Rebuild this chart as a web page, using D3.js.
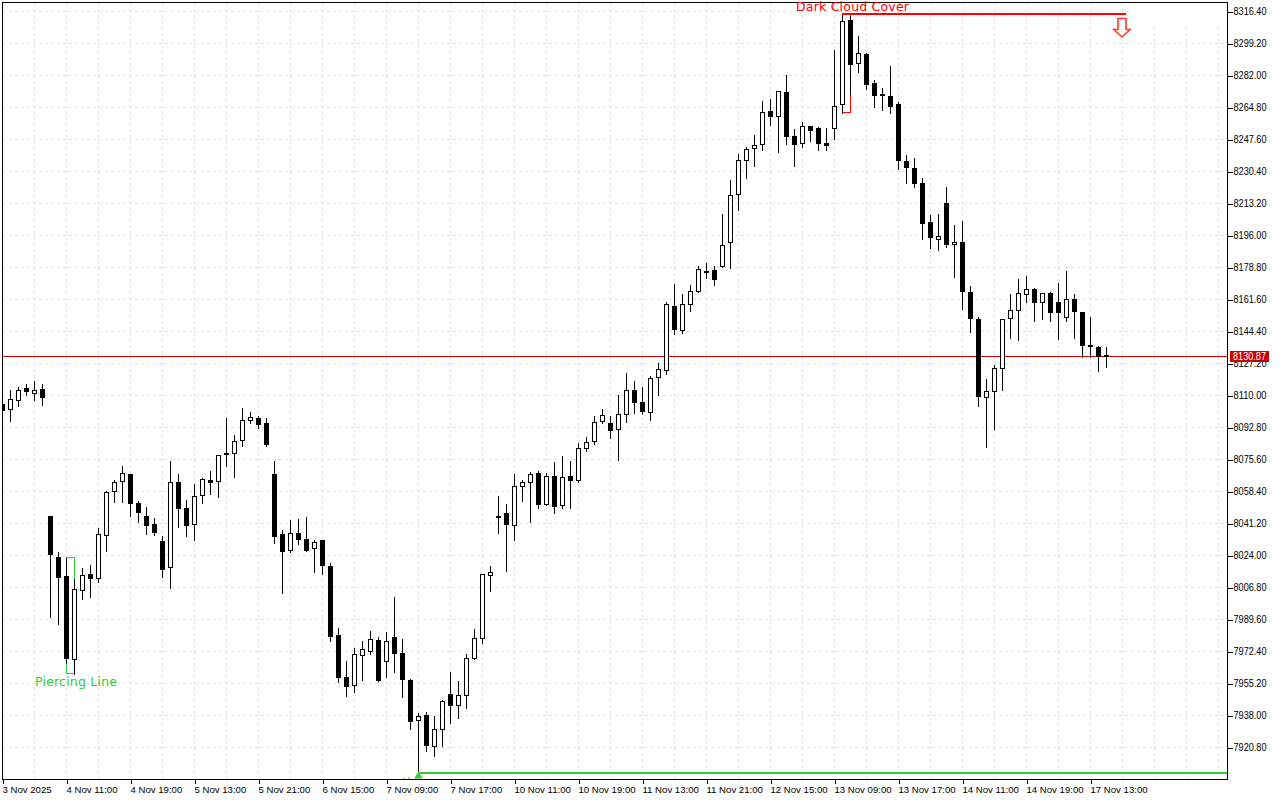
<!DOCTYPE html>
<html>
<head>
<meta charset="utf-8">
<script src="https://cdn.jsdelivr.net/npm/d3@7/dist/d3.min.js"></script>
<style>
html,body{margin:0;padding:0;background:#fff;overflow:hidden}
svg{display:block}
text{font-family:"Liberation Sans",Arial,sans-serif}
</style>
</head>
<body>
<div id="chart"></div>
<script>
const opens = [8105.4,8102.6,8107.4,8113.5,8111.2,8113.3,8044.7,8023,8012.8,7968.2,
8005.3,8014,8011.7,8034.8,8058.5,8063.9,8067.8,8052,8045,8040.7,
8031.6,8017.6,8063.3,8049.3,8040.7,8056.3,8064.4,8063.9,8078.9,8078.9,
8085.9,8096.6,8097.7,8095,8067.8,8035.3,8026.6,8035.9,8032.7,8027.8,
8031.8,8018.3,7981.1,7958.5,7954,7970.3,7972.3,7978.4,7966.9,7980,
7971.4,7956.9,7935.4,7938.1,7921.4,7930.5,7949.3,7943.3,7948.8,7968.7,
7979.3,8013.1,8045,8046.6,8040.2,8061.2,8063.3,8068.2,8051.5,8066.6,
8050.8,8066.6,8064.4,8081.6,8085.4,8096.1,8095.1,8091.8,8099.9,8112.8,
8106.3,8101,8119.8,8123.5,8157.9,8145,8159,8166,8176.8,8177.3,
8179.4,8192.3,8218.1,8236.4,8242.9,8245,8262.8,8260.1,8273,8249.3,
8245.6,8254.7,8253.6,8245.6,8253.6,8266.5,8311.7,8288.6,8293.4,8277.8,
8271.9,8270.8,8266.5,8235.9,8232.1,8224,8203,8193.9,8213.3,8191.2,
8192.3,8165.4,8150.9,8109,8112.2,8124.6,8151.4,8155.7,8164.3,8167,
8160,8164.9,8160,8152,8161.7,8154.7,8136.9,8135.9,8131.6];
const highs = [8105.6,8113.3,8115.1,8116.2,8118.3,8116.2,8044.7,8025.9,8023,8011.7,
8017.8,8018.9,8039.1,8058.7,8064.6,8072.6,8068.2,8053.6,8050.1,8044.5,
8034.8,8075.3,8068.2,8054.2,8062.8,8066,8069.9,8078.5,8098.4,8089.3,
8103.3,8101.5,8099.5,8098.4,8074.8,8038,8043.6,8044.1,8044.7,8032.7,
8032.3,8020.3,7985.4,7967.3,7974.6,7978.4,7983.7,7980.5,7983.2,8002.2,
7979.6,7957.9,7939.7,7940.2,7938.1,7946.7,7961.9,7957,7971.4,7984.8,
8014.2,8018.7,8056.5,8052.2,8068.1,8064.6,8069.4,8069.8,8068.4,8074.3,
8077.5,8075.3,8084.8,8088.2,8099,8102.8,8099,8110.3,8122.1,8118.3,
8115.1,8121,8128,8160.6,8170.3,8164.6,8169.9,8180.1,8181.6,8180,
8207.6,8226.2,8240.2,8244.1,8250.4,8268.8,8269.4,8273.5,8282.3,8253.6,
8257.4,8255.2,8254.7,8253.8,8296.1,8315.1,8314.4,8303.6,8294.5,8280,
8275.7,8287.5,8268.1,8239.6,8238,8227.4,8207.3,8207.9,8222.4,8202.1,
8203.8,8169.2,8152.5,8119.4,8126.4,8151.4,8164.9,8172.9,8174.6,8168.1,
8165.4,8166,8170.8,8177.2,8164.9,8154.7,8152.5,8136.9,8136.4];
const lows = [8101.4,8096.8,8104.5,8110.3,8107.6,8105.1,7991.1,7987.4,7966.4,7960.7,
8000.8,8002.2,8009.9,8026.9,8052.9,8052.9,8045.4,8042.2,8035.7,8035.2,
8012.6,8006.7,8039.5,8034.7,8032.5,8052.4,8057.2,8055.6,8072.3,8066.4,
8083,8095.4,8092.7,8083,8030.9,8004,8026,8030.3,8026.6,8015.3,
8014.2,7978.2,7956.2,7948.6,7950.8,7957.2,7971.2,7956.7,7958.8,7961.5,
7948.1,7930.9,7906.9,7919.1,7916.4,7922.1,7934.1,7936.8,7942.2,7968.7,
7977.1,8005.1,8036.2,8015.8,8032.5,8053.5,8042.2,8049.7,8051.5,8047,
8049.7,8049.7,8063.7,8080.4,8084.1,8095.4,8087.4,8075.5,8095.8,8100.8,
8100.3,8097,8110.8,8121.8,8143.3,8144,8155.6,8166,8173.5,8169.6,
8179.4,8178.7,8209.9,8227.1,8233.6,8242.2,8255.9,8241.1,8245.7,8233.6,
8243.8,8247,8242.2,8242.2,8248.1,8262.2,8272.4,8284.1,8274.9,8265.3,
8263.8,8262,8231.9,8224.4,8222.3,8194.3,8189.4,8188.4,8190,8173.8,
8156.6,8144.3,8104.5,8082.5,8092.1,8113.1,8141.1,8140,8160.4,8150.2,
8151.3,8150.2,8140.5,8150.2,8141.1,8131.2,8130.8,8123.3,8125.5];
const closes = [8101.8,8107.9,8112.8,8112.1,8112.8,8108.8,8024.4,8012.3,7968.5,8005.8,
8013.3,8011.5,8035.4,8057.9,8063.3,8068.2,8051.9,8047,8040,8036.3,
8016.4,8063.3,8049.2,8040,8055.8,8064.9,8063.1,8077.8,8078.2,8085.4,
8096.6,8098.3,8094.3,8083.6,8034.1,8026,8035.9,8032.7,8026.9,8031,
8018.5,7980.3,7958.3,7953.5,7970.8,7973.5,7978.9,7957,7977.8,7971.2,
7957.2,7934.7,7937.5,7921.8,7930.5,7945.6,7943.3,7948.6,7968.7,7979.4,
8013.8,8014.7,8044.3,8040.5,8061.1,8063.3,8067.6,8051.5,8066.6,8050.3,
8066,8064.4,8081.6,8084.8,8095.6,8099.4,8091.1,8099.9,8112.8,8106.2,
8101.3,8119.2,8124.1,8159,8145.4,8159,8166,8177.5,8176.4,8172.3,
8190.7,8217.6,8236.4,8242.3,8244.5,8262.2,8259.9,8273.5,8249.3,8245,
8254.7,8252.5,8245.4,8244.3,8265.4,8311.1,8288,8293.9,8277.1,8271.2,
8271.2,8265.3,8236.2,8232.5,8223.9,8202.3,8194.8,8195.5,8191,8192.3,
8165.8,8151.3,8109.3,8112,8124.6,8150.9,8155.7,8164.9,8167,8159.9,
8164.9,8154.5,8154.5,8161.7,8155,8136.8,8136.2,8131.2,8130.9];

const priceTicks = [8316.4,8299.2,8282,8264.8,8247.6,8230.4,8213.2,8196,8178.8,8161.6,8144.4,8127.2,
8110,8092.8,8075.6,8058.4,8041.2,8024,8006.8,7989.6,7972.4,7955.2,7938,7920.8];
const timeLabels = ["3 Nov 2025","4 Nov 11:00","4 Nov 19:00","5 Nov 13:00","5 Nov 21:00","6 Nov 15:00",
"7 Nov 09:00","7 Nov 17:00","10 Nov 11:00","10 Nov 19:00","11 Nov 13:00","11 Nov 21:00",
"12 Nov 15:00","13 Nov 09:00","13 Nov 17:00","14 Nov 11:00","14 Nov 19:00","17 Nov 13:00"];
const timeTickIndex = timeLabels.map((_, k) => k * 8);
const gridIndex = d3.range(0, 154, 4);
const lastPrice = 8130.87;
const piercing = {first: 8, second: 9, label: "Piercing Line"};
const darkCloud = {first: 105, second: 106, endIndex: 140.5, arrowIndex: 140, label: "Dark Cloud Cover"};
const supportStart = 52;

const W = 1280, H = 800, L = 2.5, R = 1227.5, T = 2.5, B = 779.5;
const x = d3.scaleLinear().domain([0, 138]).range([2.5, 1106.5]);
const y = d3.scaleLinear().domain([8316.4, 7920.8]).range([11.5, 747.5]);
const snap = v => Math.round(v - 0.5) + 0.5;
const py = v => snap(y(v));

const svg = d3.select("#chart").append("svg").attr("width", W).attr("height", H);
svg.append("defs").append("clipPath").attr("id", "plot")
  .append("rect").attr("x", L).attr("y", T).attr("width", R - L).attr("height", B - T);
const crisp = svg.append("g").attr("shape-rendering", "crispEdges");
const plot = crisp.append("g").attr("clip-path", "url(#plot)");

// grid
const grid = plot.append("g").attr("stroke", "#e2e2e2").attr("stroke-dasharray", "3,3");
grid.selectAll("line.h").data(priceTicks).join("line").attr("class", "h")
  .attr("x1", L).attr("x2", R).attr("y1", d => py(d)).attr("y2", d => py(d));
grid.selectAll("line.v").data(gridIndex).join("line").attr("class", "v")
  .attr("x1", d => x(d)).attr("x2", d => x(d)).attr("y1", T).attr("y2", B);
plot.append("rect").attr("x", x(darkCloud.endIndex)).attr("y", T).attr("width", R - x(darkCloud.endIndex)).attr("height", 23.5).attr("fill", "#fff");

// last price line
plot.append("line").attr("x1", L).attr("x2", R).attr("y1", py(lastPrice)).attr("y2", py(lastPrice)).attr("stroke", "#d40000");

// pattern marks under the candles
const green = "#32cd32", red = "#ff0000";
plot.append("rect").attr("x", x(piercing.first)).attr("width", x(piercing.second) - x(piercing.first))
  .attr("y", py(highs[piercing.first])).attr("height", py(lows[piercing.second]) - py(highs[piercing.first]))
  .attr("fill", "none").attr("stroke", green);
plot.append("rect").attr("x", x(darkCloud.first)).attr("width", x(darkCloud.second) - x(darkCloud.first))
  .attr("y", py(highs[darkCloud.first])).attr("height", py(lows[darkCloud.first]) - py(highs[darkCloud.first]))
  .attr("fill", "none").attr("stroke", red);

// candles
const candles = d3.range(opens.length).map(i => ({i, o: opens[i], h: highs[i], l: lows[i], c: closes[i]}));
const cg = plot.append("g");
cg.selectAll("line").data(candles).join("line")
  .attr("x1", d => x(d.i)).attr("x2", d => x(d.i))
  .attr("y1", d => py(d.h)).attr("y2", d => py(d.l)+1).attr("stroke", "#000");
cg.selectAll("rect").data(candles).join("rect")
  .attr("x", d => x(d.i) - 2).attr("width", 4)
  .attr("y", d => py(Math.max(d.o, d.c)))
  .attr("height", d => Math.max(1, py(Math.min(d.o, d.c)) - py(Math.max(d.o, d.c))))
  .attr("fill", d => d.c >= d.o ? "#fff" : "#000").attr("stroke", "#000");

// support / resistance bars
plot.append("rect").attr("x", x(supportStart) + 0.5).attr("width", R - x(supportStart))
  .attr("y", Math.round(y(lows[supportStart])) - 1).attr("height", 2).attr("fill", green);
plot.append("path").attr("d", d3.symbol(d3.symbolTriangle, 30)())
  .attr("transform", `translate(${x(supportStart)},776)`).attr("fill", green).attr("shape-rendering", "auto");
plot.append("rect").attr("x", 403).attr("y", 777).attr("width", 2).attr("height", 2).attr("fill", "#d9e88f");
plot.append("rect").attr("x", 408).attr("y", 777).attr("width", 2).attr("height", 2).attr("fill", "#9fe8b4");
plot.append("rect").attr("x", x(darkCloud.first) - 0.5).attr("width", x(darkCloud.endIndex) - x(darkCloud.first))
  .attr("y", Math.round(y(highs[darkCloud.first])) - 1).attr("height", 2).attr("fill", red);

// arrow
const ax = x(darkCloud.arrowIndex) - 0.5;
const arrow = d3.line()([[ax-4,18.5],[ax+4,18.5],[ax+4,29.5],[ax+8,29.5],[ax,37],[ax-8,29.5],[ax-4,29.5]]) + "Z";
svg.append("path").attr("d", arrow).attr("fill", "#fff").attr("stroke", "#ff3b2e").attr("stroke-width", 1.6);

// pattern labels
svg.append("text").text(piercing.label).attr("x", 35).attr("y", 686)
  .style("font-family", "DejaVu Sans")
  .attr("font-size", 12.5).attr("textLength", 82).attr("fill", green);
svg.append("text").text(darkCloud.label).attr("x", 796).attr("y", 11)
  .style("font-family", "DejaVu Sans")
  .attr("font-size", 12.5).attr("textLength", 113).attr("fill", red);

// frame
crisp.append("rect").attr("x", L).attr("y", T).attr("width", R - L).attr("height", B - T)
  .attr("fill", "none").attr("stroke", "#000");

// axes
const yAxis = d3.axisRight(y).tickValues(priceTicks).tickFormat(d3.format(".2f")).tickSize(5).tickPadding(1);
const yG = svg.append("g").attr("transform", `translate(${R},0)`).call(yAxis);
const xAxis = d3.axisBottom(x).tickValues(timeTickIndex).tickFormat((d, i) => timeLabels[i]).tickSize(4).tickPadding(3);
const xG = svg.append("g").attr("transform", `translate(0,${B})`).call(xAxis);
[yG, xG].forEach(g => {
  g.select(".domain").remove();
  g.attr("shape-rendering", "crispEdges");
  g.selectAll("line").attr("stroke", "#000");
  g.selectAll("text").attr("fill", "#000").attr("font-size", 10).style("font-family", '"Liberation Sans"');
});
yG.selectAll("text").attr("textLength", 33).attr("lengthAdjust", "spacingAndGlyphs");
xG.selectAll("text").attr("font-size", 9.6).attr("text-anchor", "start").attr("x", -0.5);

// last price tag
svg.append("rect").attr("x", 1230).attr("y", py(lastPrice) - 5.5).attr("width", 39).attr("height", 11).attr("fill", "#c80000");
svg.append("text").text(d3.format(".2f")(lastPrice)).attr("x", 1233).attr("y", py(lastPrice) + 3.5)
  .attr("font-size", 10).attr("textLength", 33).attr("lengthAdjust", "spacingAndGlyphs").attr("fill", "#fff");
</script>
</body>
</html>
